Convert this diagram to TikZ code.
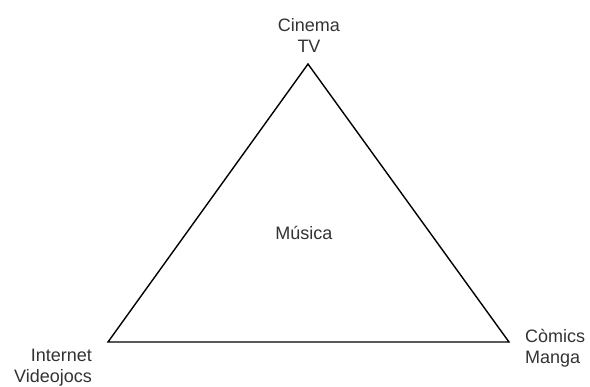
\documentclass[tikz,border=0pt]{standalone}
\usepackage{fontspec}
\setmainfont{Liberation Sans}
\usetikzlibrary{positioning,calc}
\definecolor{ink}{HTML}{333333}
\tikzset{
  every node/.style={font=\fontsize{18}{21}\selectfont, text=ink, inner sep=0pt},
  % --- nodes
  lbl/.style  = {align=center},
  lbll/.style = {align=right},
  lblr/.style = {align=left},
  % --- edges
  side/.style = {draw=black, line width=1.4pt, line join=miter},
}

\begin{document}
\begin{tikzpicture}[x=1pt, y=-1pt]
  \useasboundingbox (0,0) rectangle (590,387);
  % ------------------------------------------------------------------ corners
  \coordinate (top)   at (308,64);
  \coordinate (left)  at (108,342);
  \coordinate (right) at (509,342);

  % ------------------------------------------------------------------ triangle
  \draw[side] (top) -- (right) -- (left) -- cycle;

  % ------------------------------------------------------------------ labels
  \node[lbl, anchor=south] (cinema) at ($(top)+(1,-11)$) {Cinema\\TV};
  \node[lbl] (musica) at (304,233) {Música};
  \node[lbll, anchor=north east] (internet) at (92,349) {Internet\\Videojocs};
  \node[lblr, anchor=north west] (comics) at (525,329) {Còmics\\Manga};
\end{tikzpicture}
\end{document}
